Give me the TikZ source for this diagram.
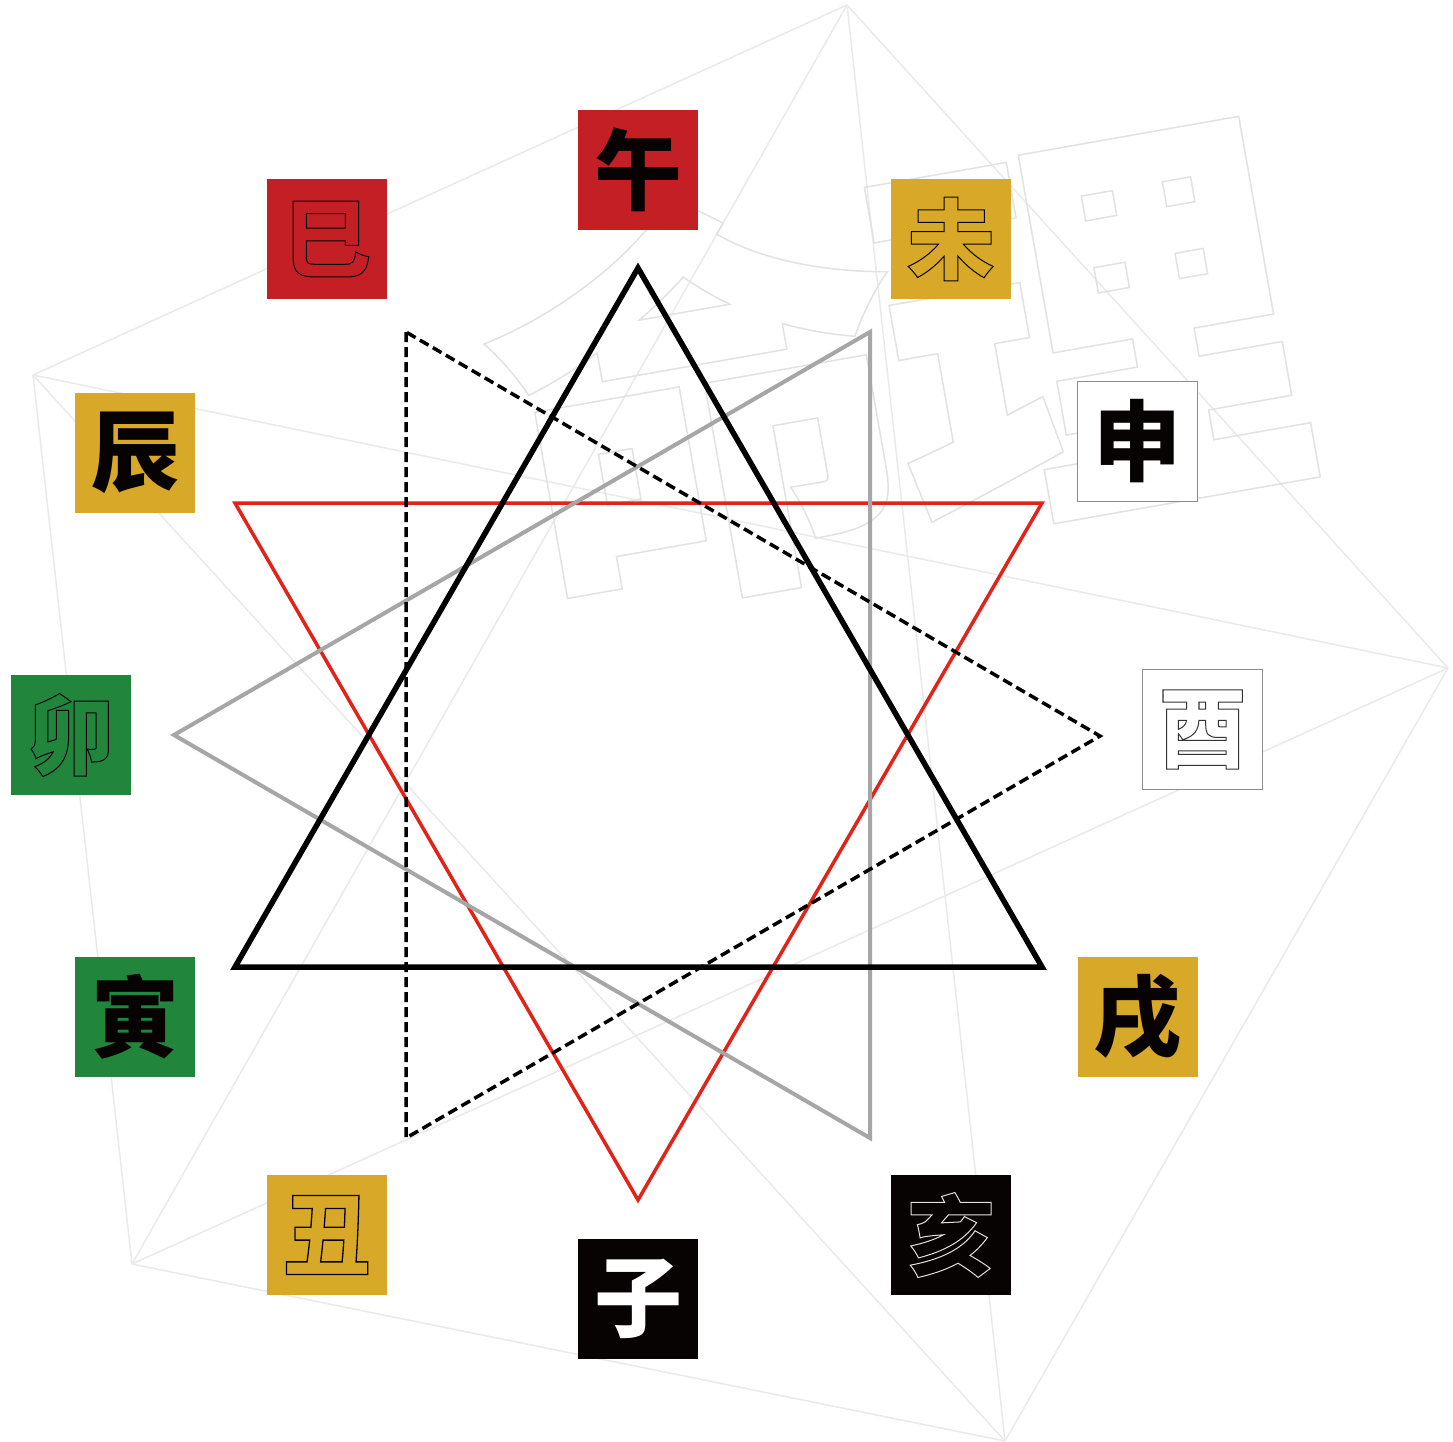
\documentclass[tikz,border=0pt]{standalone}
\usepackage{fontspec}
\newfontfamily\cjk{Noto Sans CJK SC}
\definecolor{zred}{HTML}{C51F26}
\definecolor{zgold}{HTML}{D8A928}
\definecolor{zgreen}{HTML}{21853B}
\definecolor{zblack}{HTML}{070303}
\definecolor{trired}{HTML}{E2231A}
\definecolor{trigray}{HTML}{A6A6A6}
\definecolor{bgline}{HTML}{EAEAEA}
\definecolor{wmgray}{HTML}{E2E2E2}
\newcommand\outlinetext[2]{\special{pdf:literal direct #1 w 1 Tr}#2\special{pdf:literal direct 0 Tr}}
\tikzset{
  zbox/.style={minimum size=120pt, inner sep=0pt, outer sep=0pt,
    font={\cjk\bfseries\fontsize{88pt}{88pt}\selectfont}},
  wm/.style={inner sep=0pt, text=wmgray, rotate=10,
    font={\cjk\bfseries\fontsize{420pt}{420pt}\selectfont}},
  bgedge/.style={draw=bgline, line width=1.5pt},
  tri/.style={line join=miter}
}
\begin{document}
\begin{tikzpicture}[x=1pt,y=-1pt]
\useasboundingbox (0,0) rectangle (1453,1441);
\fill[white] (0,0) rectangle (1453,1441);
% background pentagon with all diagonals
\coordinate (pA) at (847,5);
\coordinate (pB) at (33,375);
\coordinate (pC) at (132,1264);
\coordinate (pD) at (1005,1441);
\coordinate (pE) at (1448,668);
\foreach \u/\v in {pA/pB,pB/pC,pC/pD,pD/pE,pE/pA,pA/pC,pA/pD,pB/pD,pB/pE,pC/pE}
  \draw[bgedge] (\u) -- (\v);
% watermark
\node[wm] (wmA) at (702,398) {\outlinetext{1.5}{命}};
\node[wm] (wmB) at (1090,330) {\outlinetext{1.5}{理}};
% triangles
\coordinate (rA) at (235,503); \coordinate (rB) at (1042,503); \coordinate (rC) at (638,1200);
\coordinate (gA) at (870,332); \coordinate (gB) at (870,1138); \coordinate (gC) at (174,735);
\coordinate (dA) at (406,332); \coordinate (dB) at (406,1138); \coordinate (dC) at (1100,736);
\coordinate (kA) at (638,268); \coordinate (kB) at (235,967); \coordinate (kC) at (1042,967);
\draw[tri, trired, line width=3.5pt] (rA) -- (rB) -- (rC) -- cycle;
\draw[tri, trigray, line width=4pt] (gA) -- (gB) -- (gC) -- cycle;
\draw[tri, black, line width=3.5pt, dash pattern=on 10pt off 5pt] (dA) -- (dB) -- (dC) -- cycle;
\draw[tri, black, line width=5.5pt] (kA) -- (kB) -- (kC) -- cycle;
% twelve branches
\node[zbox, fill=zred, text=zblack] (wu) at (638,170) {午};
\node[zbox, fill=zgold, text=zblack] (wei) at (951,239) {\outlinetext{1}{未}};
\node[zbox, fill=white, draw=gray!90, line width=1pt, text=zblack] (shen) at (1137.5,441.5) {申};
\node[zbox, fill=white, draw=gray!90, line width=1pt, text=black!80] (you) at (1202.5,729.5) {\outlinetext{1}{酉}};
\node[zbox, fill=zgold, text=zblack] (xu) at (1137.5,1017) {戌};
\node[zbox, fill=zblack, text=black!12] (hai) at (951,1235) {\outlinetext{1}{亥}};
\node[zbox, fill=zblack, text=white] (zi) at (638,1299) {子};
\node[zbox, fill=zgold, text=zblack] (chou) at (327,1235) {\outlinetext{1.3}{丑}};
\node[zbox, fill=zgreen, text=zblack] (yin) at (135,1017) {寅};
\node[zbox, fill=zgreen, text=zblack] (mao) at (71,735) {\outlinetext{1}{卯}};
\node[zbox, fill=zgold, text=zblack] (chen) at (135,452.5) {辰};
\node[zbox, fill=zred, text=zblack] (si) at (327,239) {\outlinetext{1}{巳}};
\end{tikzpicture}
\end{document}
